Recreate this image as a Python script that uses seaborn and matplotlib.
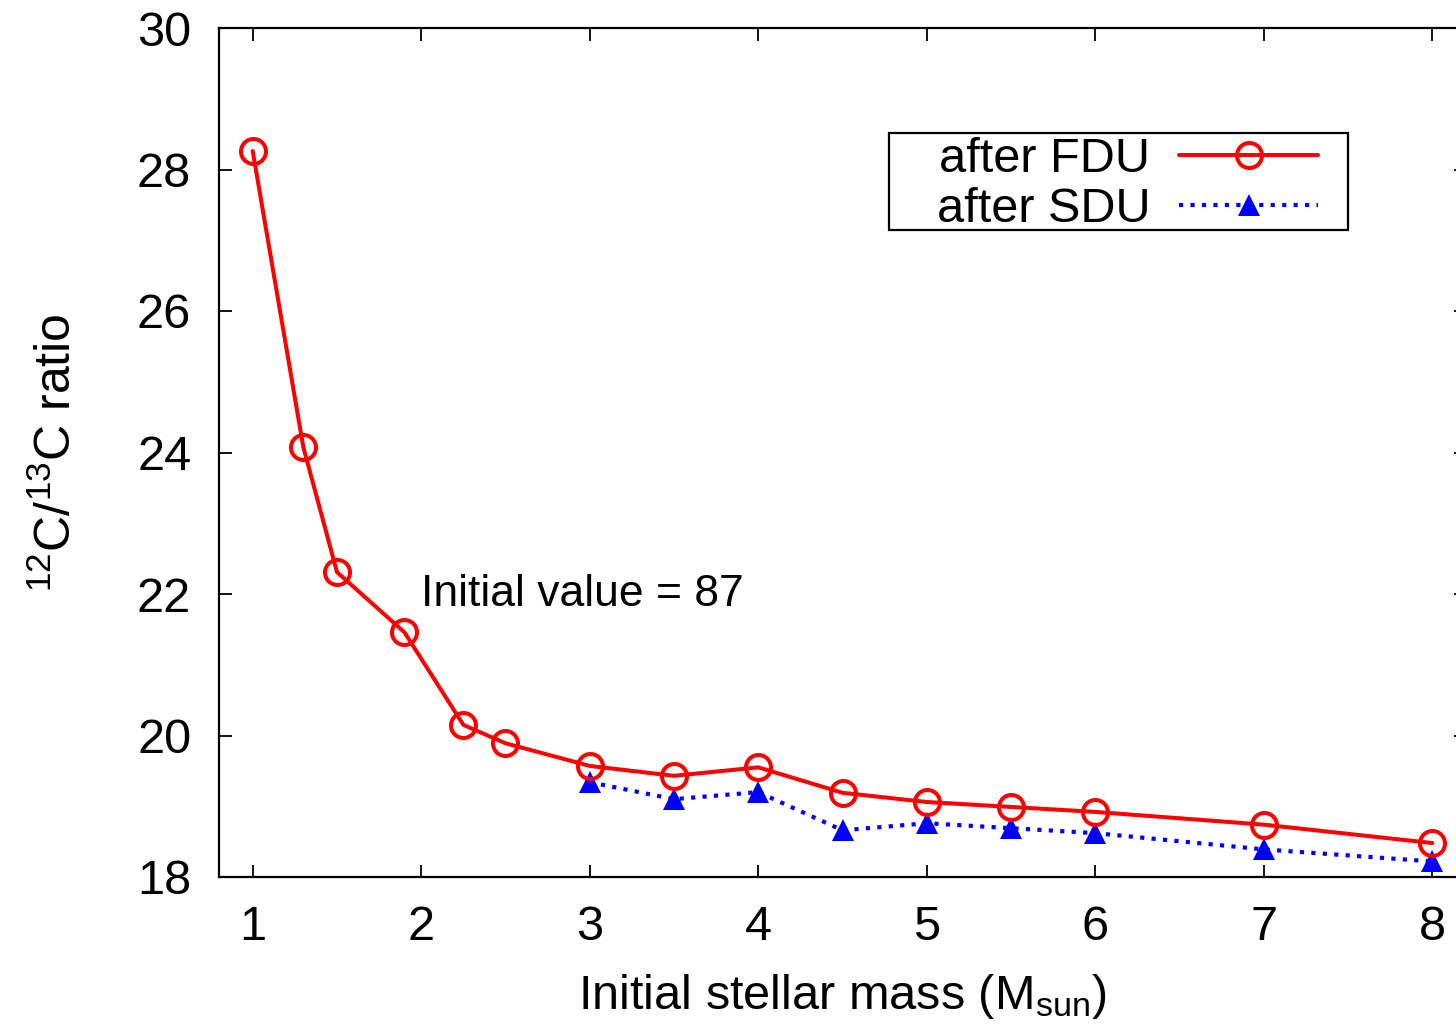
import matplotlib
matplotlib.use("Agg")
import matplotlib.pyplot as plt
from matplotlib.patches import Rectangle
import seaborn as sns
import pandas as pd

# Data
mass_fdu = [1.0, 1.3, 1.5, 1.9, 2.25, 2.5, 3.0, 3.5, 4.0, 4.5, 5.0, 5.5, 6.0, 7.0, 8.0]
ratio_fdu = [28.26, 24.08, 22.31, 21.46, 20.15, 19.89, 19.57, 19.43, 19.55, 19.19, 19.06, 18.99, 18.92, 18.74, 18.48]
mass_sdu = [3.0, 3.5, 4.0, 4.5, 5.0, 5.5, 6.0, 7.0, 8.0]
ratio_sdu = [19.34, 19.10, 19.20, 18.66, 18.76, 18.69, 18.62, 18.39, 18.22]
series_labels = ["after FDU", "after SDU"]
x_ticks = [1, 2, 3, 4, 5, 6, 7, 8]
y_ticks = [18, 20, 22, 24, 26, 28, 30]

sns.set_style("ticks")
plt.rcParams["font.family"] = ["Liberation Sans", "DejaVu Sans"]
plt.rcParams["mathtext.fontset"] = "custom"
plt.rcParams["mathtext.rm"] = "Liberation Sans"
plt.rcParams["mathtext.it"] = "Liberation Sans:italic"
for k in ["text.color", "axes.labelcolor", "xtick.color", "ytick.color", "axes.edgecolor"]:
    plt.rcParams[k] = "black"

fig = plt.figure(figsize=(14.56, 10.25), dpi=100)
W, H = 1456, 1025
left, right, top, bottom = 219, 1466, 28, 877
ax = fig.add_axes([left / W, 1 - bottom / H, (right - left) / W, (bottom - top) / H])

df_fdu = pd.DataFrame({"mass": mass_fdu, "ratio": ratio_fdu})
df_sdu = pd.DataFrame({"mass": mass_sdu, "ratio": ratio_sdu})

sns.lineplot(data=df_fdu, x="mass", y="ratio", ax=ax, color="#ff0000", lw=2.9,
             marker="o", markersize=18, mfc="none", mec="#ff0000", mew=2.9,
             label=series_labels[0], zorder=3)
sns.lineplot(data=df_sdu, x="mass", y="ratio", ax=ax, color="#0000ff", lw=3.0,
             linestyle=(0, (1.0, 1.75)), marker="^", markersize=16, mfc="#0000ff",
             mec="#0000ff", mew=0, label=series_labels[1], zorder=2)

ax.set_xlim(0.8, 8.2)
ax.set_ylim(18, 30)
ax.set_xticks(x_ticks)
ax.set_yticks(y_ticks)
ax.tick_params(axis="both", direction="in", length=9, width=1.3, labelsize=35,
               top=True, right=True, color="black", labelcolor="black")
ax.tick_params(axis="x", pad=20)
ax.tick_params(axis="y", pad=20)
for s in ax.spines.values():
    s.set_linewidth(1.6)
    s.set_color("black")

ax.set_xlabel("Initial stellar mass (M$_{\\rm sun}$)", fontsize=35, labelpad=16)
ax.set_ylabel("$^{12}$C/$^{13}$C ratio", fontsize=36, labelpad=40)

ax.text(2.0, 22.0, "Initial value = 87", fontsize=32, ha="left", va="center")

# Legend without frame; its box is drawn separately
leg = ax.legend(loc="upper right", bbox_to_anchor=(1318 / W, 1 - 137 / H),
                bbox_transform=fig.transFigure, markerfirst=False, fontsize=35,
                frameon=False, borderaxespad=0,
                handlelength=2.85, handletextpad=0.6, labelspacing=0.1,
                borderpad=0.0)
for t in leg.get_texts():
    t.set_ha("right")
leg.set_zorder(6)

box = Rectangle((889 / W, 1 - 230 / H), (1348 - 889) / W, (230 - 133) / H,
                transform=fig.transFigure, fill=True, facecolor="white",
                edgecolor="black", linewidth=1.6, zorder=5, clip_on=False)
ax.add_patch(box)

fig.savefig("out.png", dpi=100)
